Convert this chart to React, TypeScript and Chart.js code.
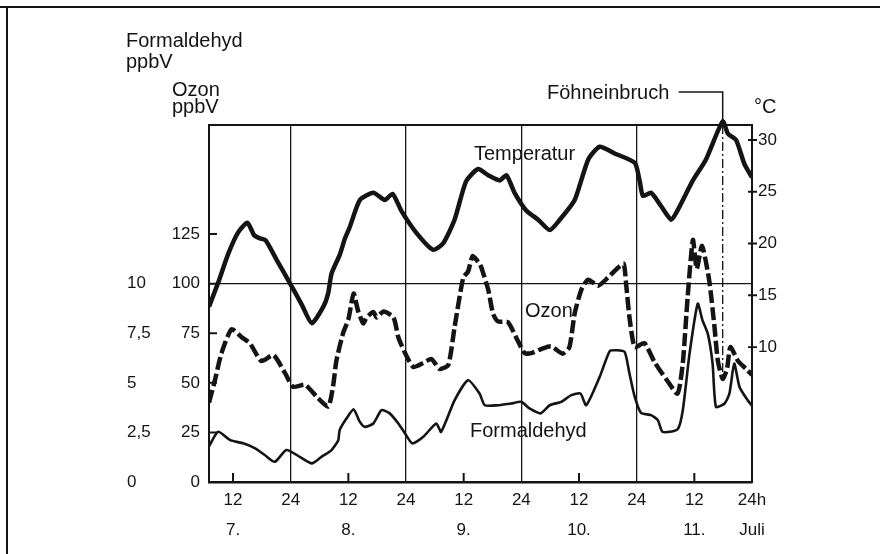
import React, { useEffect, useRef } from "react";
import { Chart, registerables } from "chart.js";

Chart.register(...registerables);

const FONT = "'Liberation Sans', Arial, sans-serif";
const INK = "#141414";
const NONE = "rgba(0,0,0,0)";

// hours since 7 July 0h
const tempHours = [7.0, 8.9, 11.0, 13.1, 15.0, 16.4, 17.6, 18.8, 21.1, 23.8, 26.3, 28.4, 30.8, 31.8, 32.5, 34.2, 35.3, 36.3, 38.4, 41.2, 43.6, 45.2, 47.1, 50.2, 53.6, 55.7, 58.1, 60.5, 63.0, 65.1, 67.5, 68.9, 70.6, 73.0, 75.5, 77.9, 80.0, 83.1, 85.9, 88.3, 91.4, 95.6, 96.6, 97.3, 99.0, 101.1, 103.2, 104.5, 107.7, 110.4, 113.9, 115.0, 116.7, 118.4, 120.0];
const tempC = [13.9, 16.2, 19.0, 21.1, 22.0, 20.8, 20.5, 20.3, 18.4, 16.2, 14.1, 12.3, 13.9, 15.2, 17.1, 18.9, 20.5, 21.6, 24.2, 24.9, 24.2, 24.8, 23.1, 21.0, 19.4, 20.0, 22.3, 26.0, 27.2, 26.6, 26.1, 26.6, 24.9, 23.2, 22.3, 21.3, 22.3, 24.2, 28.1, 29.35, 28.7, 27.8, 26.1, 24.6, 24.9, 23.6, 22.3, 23.2, 26.1, 28.1, 31.8, 30.6, 30.0, 27.7, 26.4];

const ozoneHours = [7.0, 8.2, 9.6, 11.7, 13.8, 15.5, 17.9, 20.4, 22.8, 24.5, 27.0, 29.4, 31.8, 32.8, 33.5, 34.9, 36.0, 37.1, 38.0, 39.1, 39.8, 41.2, 41.9, 43.3, 45.4, 46.4, 47.8, 49.5, 51.6, 53.3, 55.0, 56.8, 58.1, 59.9, 60.9, 61.9, 63.3, 63.7, 65.1, 66.1, 67.1, 69.2, 71.3, 72.7, 74.1, 76.1, 78.2, 80.6, 82.0, 83.1, 84.5, 85.9, 88.0, 90.0, 92.1, 93.3, 93.8, 94.5, 95.6, 97.6, 99.7, 102.1, 104.5, 105.6, 106.6, 107.7, 108.5, 109.6, 111.1, 112.2, 112.9, 113.9, 114.8, 115.5, 117.1, 118.8, 120.0];
const ozonePpb = [40, 51, 65, 77, 73, 70, 61, 64, 55, 48, 49, 43, 38, 48, 61, 75, 82, 95, 86.5, 80, 83, 85.7, 83, 86, 83, 73, 65, 58, 60, 62, 57, 59, 78, 103, 106, 114, 110, 108, 97, 85, 81, 80.6, 71, 65, 65, 67, 68.4, 64.7, 68, 85, 97, 102, 99, 103, 108, 110, 100, 83, 68, 70, 60.5, 52, 44.6, 60, 93, 122, 107.5, 119, 101.6, 78, 61, 52, 57, 68, 61, 57, 54];

const hchoHours = [7.0, 8.9, 11.4, 14.1, 16.6, 18.6, 20.7, 23.1, 25.9, 28.4, 30.4, 32.5, 33.9, 34.2, 35.6, 37.1, 38.4, 39.4, 41.2, 42.9, 44.6, 46.4, 47.8, 49.3, 51.6, 54.3, 55.3, 58.1, 60.9, 63.3, 64.4, 67.1, 69.9, 72.0, 73.7, 76.0, 77.9, 80.3, 82.4, 84.3, 85.5, 88.3, 90.4, 91.8, 93.5, 94.5, 95.6, 96.9, 99.0, 100.4, 101.4, 104.5, 105.6, 107.0, 108.7, 109.7, 110.8, 111.8, 112.5, 114.3, 115.3, 116.3, 117.4, 119.1, 120.0];
const hchoPpb = [1.8, 2.53, 2.11, 1.95, 1.7, 1.36, 1.02, 1.61, 1.27, 0.94, 1.27, 1.61, 2.11, 2.62, 3.2, 3.66, 3.03, 2.78, 2.95, 3.62, 3.46, 2.95, 2.45, 1.95, 2.28, 2.95, 2.53, 4.12, 5.13, 4.46, 3.87, 3.87, 3.96, 4.04, 3.71, 3.46, 3.87, 4.04, 4.38, 4.46, 3.87, 5.3, 6.6, 6.64, 6.56, 5.47, 4.29, 3.49, 3.37, 3.12, 2.53, 2.65, 3.62, 6.47, 8.99, 8.15, 7.48, 5.97, 3.79, 3.96, 4.46, 5.97, 4.79, 4.12, 3.85];

const xTickHours = [12, 24, 36, 48, 60, 72, 84, 96, 108, 120];
const dayLabels = ["7.", "8.", "9.", "10.", "11."];
const ozoneTicks = [0, 25, 50, 75, 100, 125];
const hchoTicks = [0, 2.5, 5, 7.5, 10];
const tempTicks = [10, 15, 20, 25, 30];
const FOEHN_HOUR = 113.9;
const FOEHN_OZONE_END = 52;

const pts = (xs: number[], ys: number[]) => xs.map((x, i) => ({ x, y: ys[i] }));

const xLabel = (v: number) => {
  if (v === 120) return ["24h", "Juli"];
  if (v % 24 === 12) return ["12", dayLabels[(v - 12) / 24]];
  return "24";
};

const decor = {
  id: "decor",
  beforeDatasetsDraw(chart: any) {
    const { ctx, chartArea: a, scales } = chart;
    const fx = scales.x.getPixelForValue(FOEHN_HOUR);
    ctx.save();
    ctx.strokeStyle = INK;
    ctx.lineWidth = 1.3;
    ctx.setLineDash([9, 3, 2, 3]);
    ctx.beginPath();
    ctx.moveTo(fx, a.top);
    ctx.lineTo(fx, scales.yO.getPixelForValue(FOEHN_OZONE_END));
    ctx.stroke();
    ctx.restore();
  },
  afterDatasetsDraw(chart: any) {
    const { ctx, chartArea: a, scales } = chart;
    const x = scales.x, yO = scales.yO, yT = scales.yT;
    ctx.save();
    ctx.strokeStyle = INK;
    ctx.lineCap = "butt";
    // top frame line
    ctx.lineWidth = 2;
    ctx.beginPath();
    ctx.moveTo(a.left - 1, a.top);
    ctx.lineTo(a.right + 1, a.top);
    ctx.stroke();
    // inner ticks on x axis at 12h
    ctx.lineWidth = 2;
    ctx.beginPath();
    for (const h of xTickHours) {
      if (h % 24 !== 12) continue;
      const px = x.getPixelForValue(h);
      ctx.moveTo(px, a.bottom);
      ctx.lineTo(px, a.bottom - 9);
    }
    // inner ticks on ozone axis
    for (const v of ozoneTicks) {
      if (v === 0) continue;
      const py = yO.getPixelForValue(v);
      ctx.moveTo(a.left, py);
      ctx.lineTo(a.left + 8, py);
    }
    ctx.stroke();
    // ticks on temperature axis
    ctx.lineWidth = 1.8;
    ctx.beginPath();
    for (const v of tempTicks) {
      const py = yT.getPixelForValue(v);
      ctx.moveTo(a.right - 4, py);
      ctx.lineTo(a.right + 5, py);
    }
    ctx.stroke();
    // Föhn leader
    const fx = x.getPixelForValue(FOEHN_HOUR);
    ctx.lineWidth = 1.5;
    ctx.beginPath();
    ctx.moveTo(fx - 44, a.top - 33);
    ctx.lineTo(fx, a.top - 33);
    ctx.lineTo(fx, a.top);
    ctx.stroke();
    ctx.restore();
  },
};

const tickFont = { family: FONT, size: 17 };

const Label = ({ text, left, baseline }: { text: string; left: number; baseline: number }) => (
  <div
    style={{
      position: "absolute",
      left,
      top: baseline - 16.9,
      fontSize: 20,
      lineHeight: "20px",
      fontFamily: FONT,
      color: INK,
      whiteSpace: "nowrap",
    }}
  >
    {text}
  </div>
);

export default function App() {
  const ref = useRef<HTMLCanvasElement>(null);
  useEffect(() => {
    const chart = new Chart(ref.current as HTMLCanvasElement, {
      type: "line",
      data: {
        datasets: [
          {
            label: "Temperatur",
            data: pts(tempHours, tempC),
            yAxisID: "yT",
            borderColor: INK,
            borderWidth: 4.5,
            borderJoinStyle: "round",
            pointRadius: 0,
            tension: 0.2,
            clip: { left: 0, right: 0, top: 12, bottom: 0 } as any,
          },
          {
            label: "Ozon",
            data: pts(ozoneHours, ozonePpb),
            yAxisID: "yO",
            borderColor: INK,
            borderWidth: 4.5,
            borderDash: [13, 4],
            pointRadius: 0,
            tension: 0.2,
          },
          {
            label: "Formaldehyd",
            data: pts(hchoHours, hchoPpb),
            yAxisID: "yH",
            borderColor: INK,
            borderWidth: 2.6,
            borderJoinStyle: "round",
            pointRadius: 0,
            tension: 0.2,
          },
        ],
      },
      options: {
        responsive: false,
        animation: false,
        devicePixelRatio: 1,
        layout: { padding: { left: 127, right: 88, top: 125, bottom: 0 } },
        plugins: { legend: { display: false }, tooltip: { enabled: false } },
        scales: {
          x: {
            type: "linear",
            min: 7,
            max: 120,
            afterBuildTicks: (s: any) => {
              s.ticks = xTickHours.map((v) => ({ value: v }));
            },
            afterFit: (s: any) => {
              s.height = 72;
            },
            grid: {
              color: (c: any) => (c.tick && c.tick.value % 24 === 0 && c.tick.value < 120 ? INK : NONE),
              lineWidth: 1.3,
              drawTicks: false,
            },
            border: { display: true, color: INK, width: 2.5 },
            ticks: {
              padding: 3,
              maxRotation: 0,
              autoSkip: false,
              color: INK,
              font: { family: FONT, size: 17, lineHeight: 1.76 },
              callback: (v: any) => xLabel(Number(v)),
            },
          },
          yO: {
            type: "linear",
            position: "left",
            weight: 0,
            min: 0,
            max: 180,
            afterBuildTicks: (s: any) => {
              s.ticks = ozoneTicks.map((v) => ({ value: v }));
            },
            afterFit: (s: any) => {
              s.width = 50;
            },
            grid: {
              color: (c: any) => (c.tick && c.tick.value === 100 ? INK : NONE),
              lineWidth: 1.3,
              drawTicks: false,
            },
            border: { display: true, color: INK, width: 2 },
            ticks: { padding: 9, color: INK, font: tickFont, callback: (v: any) => String(v) },
          },
          yH: {
            type: "linear",
            position: "left",
            weight: 1,
            min: 0,
            max: 18,
            afterBuildTicks: (s: any) => {
              s.ticks = hchoTicks.map((v) => ({ value: v }));
            },
            afterFit: (s: any) => {
              s.width = 32;
            },
            grid: { display: false, drawTicks: false },
            border: { display: false },
            ticks: {
              padding: 0,
              crossAlign: "far",
              color: INK,
              font: tickFont,
              callback: (v: any) => String(v).replace(".", ","),
            },
          },
          yT: {
            type: "linear",
            position: "right",
            min: -3.04,
            max: 31.45,
            afterBuildTicks: (s: any) => {
              s.ticks = tempTicks.map((v) => ({ value: v }));
            },
            afterFit: (s: any) => {
              s.width = 40;
            },
            grid: { display: false, drawTicks: false },
            border: { display: true, color: INK, width: 2 },
            ticks: { padding: 6, color: INK, font: tickFont, callback: (v: any) => String(v) },
          },
        },
      } as any,
      plugins: [decor],
    });
    return () => chart.destroy();
  }, []);

  return (
    <div style={{ position: "absolute", left: 0, top: 0, width: 880, height: 554, background: "#fff", overflow: "hidden" }}>
      <div style={{ position: "absolute", left: 0, top: 6, width: 880, height: 2, background: INK }} />
      <div style={{ position: "absolute", left: 6, top: 6, width: 2, height: 548, background: INK }} />
      <canvas ref={ref} width={880} height={554} style={{ position: "absolute", left: 0, top: 0, width: 880, height: 554 }} />
      <Label text="Formaldehyd" left={126} baseline={47} />
      <Label text="ppbV" left={126} baseline={68} />
      <Label text="Ozon" left={172} baseline={96} />
      <Label text="ppbV" left={172} baseline={113} />
      <Label text="Föhneinbruch" left={547} baseline={99} />
      <Label text="°C" left={754} baseline={113} />
      <Label text="Temperatur" left={474} baseline={160} />
      <Label text="Ozon" left={525} baseline={317} />
      <Label text="Formaldehyd" left={470} baseline={437} />
    </div>
  );
}
